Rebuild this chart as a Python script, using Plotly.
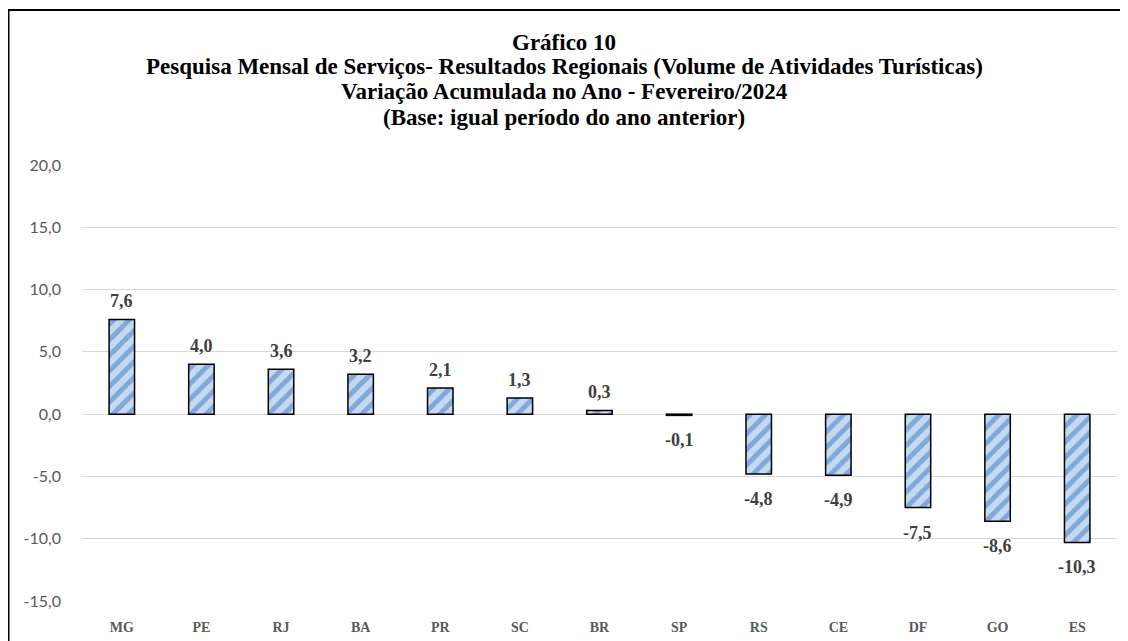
import plotly.graph_objects as go

categories = ["MG", "PE", "RJ", "BA", "PR", "SC", "BR", "SP", "RS", "CE", "DF", "GO", "ES"]
values = [7.6, 4.0, 3.6, 3.2, 2.1, 1.3, 0.3, -0.1, -4.8, -4.9, -7.5, -8.6, -10.3]
y_ticks = [20, 15, 10, 5, 0, -5, -10, -15]
y_tick_labels = ["20,0", "15,0", "10,0", "5,0", "0,0", "-5,0", "-10,0", "-15,0"]

title_lines = [
    "Gráfico 10",
    "Pesquisa Mensal de Serviços- Resultados Regionais (Volume de Atividades Turísticas)",
    "Variação Acumulada no Ano - Fevereiro/2024",
    "(Base: igual período do ano anterior)",
]

serif = "Liberation Serif, DejaVu Serif, serif"
sans = "Lato, Liberation Sans, sans-serif"

# the page body has an 8px margin, so the figure is drawn 8px smaller
W, H = 1120, 633
L, R, T, B = 74, 11, 157, 40
plot_h = H - T - B

def paper_y(fig_y):
    return 1 + (T - fig_y) / plot_h

fig = go.Figure()
fig.add_trace(go.Bar(
    x=categories,
    y=values,
    marker=dict(
        color="#C5DAF0",
        line=dict(color="#000000", width=1.5),
        pattern=dict(shape="/", fgcolor="#3F73C2", bgcolor="#C5DAF0", size=11, solidity=0.45),
    ),
    hoverinfo="x+y",
))

annotations = []
title_centers = [34, 59, 84, 109]
for line, cy in zip(title_lines, title_centers):
    annotations.append(dict(
        text=line, xref="paper", yref="paper",
        x=(556 - L) / (W - L - R), y=paper_y(cy),
        xanchor="center", yanchor="middle", showarrow=False,
        font=dict(family=serif, size=23, color="#000000", weight="bold"),
    ))

for c, v in zip(categories, values):
    annotations.append(dict(
        text=f"{v:.1f}".replace(".", ","), x=c, y=v, xref="x", yref="y",
        xanchor="center", yanchor="middle", showarrow=False,
        yshift=18 if v >= 0 else -25,
        font=dict(family=serif, size=18, color="#404040", weight="bold"),
    ))

fig.update_layout(
    width=W, height=H,
    margin=dict(l=L, r=R, t=T, b=B, autoexpand=False),
    paper_bgcolor="white",
    plot_bgcolor="white",
    separators=",.",
    bargap=0.68,
    showlegend=False,
    annotations=annotations,
    xaxis=dict(
        showgrid=False, showline=False, ticks="",
        ticklabelstandoff=16,
        tickfont=dict(family=serif, size=14, color="#595959", weight="bold"),
    ),
    yaxis=dict(
        range=[-15, 20],
        tickvals=y_ticks, ticktext=y_tick_labels,
        showgrid=True, gridcolor="#D9D9D9", gridwidth=1,
        zeroline=True, zerolinecolor="#D9D9D9", zerolinewidth=1,
        showline=False, ticks="",
        ticklabelstandoff=20,
        tickfont=dict(family=sans, size=16, color="#595959"),
    ),
    shapes=[dict(
        type="rect", xref="paper", yref="paper",
        x0=(0.5 - L) / (W - L - R), x1=1.2, y0=-0.3, y1=paper_y(2),
        line=dict(color="#000000", width=2),
        fillcolor="rgba(0,0,0,0)", layer="above",
    )],
)

fig.write_html("out.html")
